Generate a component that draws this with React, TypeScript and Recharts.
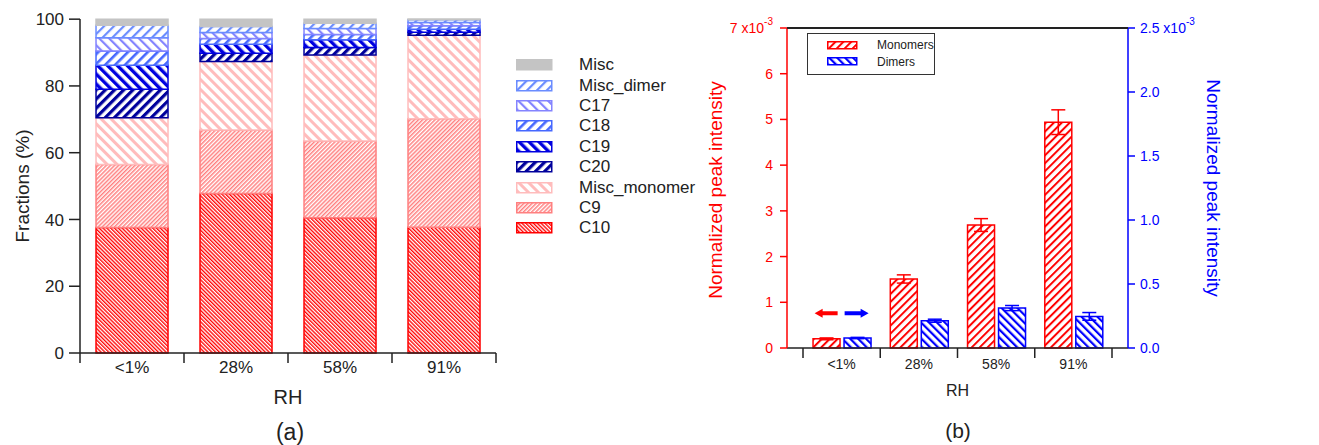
import React from 'react';
import { BarChart, Bar, XAxis, YAxis, Legend, ErrorBar, ReferenceDot, Label } from 'recharts';

// ---------- data ----------
const categories = ['<1%', '28%', '58%', '91%'];
const c10 = [37.6, 47.8, 40.5, 37.7];
const c9 = [18.9, 19.0, 23.0, 32.5];
const miscMonomer = [14.0, 20.5, 25.8, 25.0];
const c20 = [8.5, 2.5, 2.2, 0.9];
const c19 = [7.2, 2.7, 2.3, 0.9];
const c18 = [4.3, 1.7, 1.6, 1.0];
const c17 = [3.9, 1.8, 1.8, 1.0];
const miscDimer = [3.8, 1.8, 1.6, 0.8];
const misc = [1.8, 2.2, 1.2, 0.25];
const fractionTicks = [0, 20, 40, 60, 80, 100];

const monomers = [0.2, 1.51, 2.69, 4.94];
const monomerErr = [0.02, 0.09, 0.14, 0.27];
const dimers = [0.078, 0.213, 0.312, 0.247];
const dimerErr = [0.005, 0.012, 0.02, 0.03];
const monomerTicks = [0, 1, 2, 3, 4, 5, 6, 7];
const dimerTicks = [0, 0.5, 1.0, 1.5, 2.0, 2.5];
const arrowLevel = 0.76;

const fractionData = categories.map((rh, i) => ({
  rh,
  C10: c10[i],
  C9: c9[i],
  Misc_monomer: miscMonomer[i],
  C20: c20[i],
  C19: c19[i],
  C18: c18[i],
  C17: c17[i],
  Misc_dimer: miscDimer[i],
  Misc: misc[i],
}));

const intensityData = categories.map((rh, i) => ({
  rh,
  Monomers: monomers[i],
  monErr: monomerErr[i],
  Dimers: dimers[i],
  dimErr: dimerErr[i],
}));

// ---------- styles ----------
type Pat = { id: string; color: string; p: number; t: number; dir: string };
const patterns: Pat[] = [
  { id: 'pC10', color: '#ff0000', p: 2.7, t: 1.35, dir: '\\' },
  { id: 'pC9', color: '#ff8080', p: 2.9, t: 1.5, dir: '/' },
  { id: 'pMiscMon', color: '#ffbcbc', p: 7, t: 3, dir: '\\' },
  { id: 'pC20', color: '#00009c', p: 6.5, t: 3.2, dir: '/' },
  { id: 'pC19', color: '#0000e0', p: 7, t: 3.4, dir: '\\' },
  { id: 'pC18', color: '#4668ff', p: 7, t: 2.6, dir: '/' },
  { id: 'pC17', color: '#8484ff', p: 7, t: 2.2, dir: '\\' },
  { id: 'pMiscDim', color: '#6a8cff', p: 7, t: 2.2, dir: '/' },
  { id: 'pMono', color: '#ff0000', p: 5.6, t: 2, dir: '/' },
  { id: 'pDim', color: '#0000ff', p: 5.6, t: 2.2, dir: '\\' },
];

const stackSeries = [
  { key: 'C10', color: '#ff0000', fill: 'url(#pC10)' },
  { key: 'C9', color: '#ff8080', fill: 'url(#pC9)' },
  { key: 'Misc_monomer', color: '#ffbcbc', fill: 'url(#pMiscMon)' },
  { key: 'C20', color: '#00009c', fill: 'url(#pC20)' },
  { key: 'C19', color: '#0000e0', fill: 'url(#pC19)' },
  { key: 'C18', color: '#4668ff', fill: 'url(#pC18)' },
  { key: 'C17', color: '#8484ff', fill: 'url(#pC17)' },
  { key: 'Misc_dimer', color: '#6a8cff', fill: 'url(#pMiscDim)' },
  { key: 'Misc', color: '#c4c4c4', fill: '#c4c4c4' },
];

const FONT = '"Liberation Sans", Arial, sans-serif';
const INK = '#222';

// right-panel frame geometry (plot box edges)
const R_LEFT = 87;
const R_TOP = 28;
const R_RIGHT_MARGIN = 111;
const R_AXIS_W = 80;
const R_WIDTH = 619;

function PatternDefs() {
  return (
    <svg width={0} height={0} style={{ position: 'absolute' }}>
      <defs>
        {patterns.map((p) => (
          <pattern
            key={p.id}
            id={p.id}
            patternUnits="userSpaceOnUse"
            width={p.p}
            height={p.p}
            patternTransform={`rotate(${p.dir === '/' ? 45 : -45})`}
          >
            <rect width={p.p} height={p.p} fill="#fff" />
            <rect width={p.t} height={p.p} fill={p.color} />
          </pattern>
        ))}
      </defs>
    </svg>
  );
}

function FractionLegend() {
  const rows = [...stackSeries].reverse();
  return (
    <div style={{ fontFamily: FONT }}>
      {rows.map((r) => (
        <div key={r.key} style={{ height: 20.4, display: 'flex', alignItems: 'center' }}>
          <svg width={37} height={12} style={{ display: 'block' }}>
            <rect x={0.75} y={0.75} width={35} height={10} fill={r.fill} stroke={r.color} strokeWidth={1.5} />
          </svg>
          <span style={{ marginLeft: 26, fontSize: 17, color: INK, lineHeight: '20px' }}>{r.key}</span>
        </div>
      ))}
    </div>
  );
}

function IntensityLegend() {
  const rows = [
    { key: 'Monomers', color: '#ff0000', fill: 'url(#pMono)' },
    { key: 'Dimers', color: '#0000ff', fill: 'url(#pDim)' },
  ];
  return (
    <div
      style={{
        fontFamily: FONT,
        width: 126,
        height: 37,
        border: '1.5px solid #333',
        boxSizing: 'content-box',
        paddingTop: 3,
        background: '#fff',
      }}
    >
      {rows.map((r) => (
        <div key={r.key} style={{ height: 16.5, display: 'flex', alignItems: 'center' }}>
          <svg width={31} height={9} style={{ display: 'block', marginLeft: 19 }}>
            <rect x={0.75} y={0.75} width={29} height={7} fill={r.fill} stroke={r.color} strokeWidth={1.5} />
          </svg>
          <span style={{ marginLeft: 19, fontSize: 12, color: INK }}>{r.key}</span>
        </div>
      ))}
    </div>
  );
}

// Category tick: label at band centre plus tick marks at band boundaries
const makeCategoryTick = (fontSize: number, labelDy: number, tickLen: number) => (props: any) => {
  const { x, y, payload, index, visibleTicksCount } = props;
  const half = payload && payload.offset ? payload.offset : 0;
  const last = index === (visibleTicksCount ?? categories.length) - 1;
  return (
    <g>
      <line x1={x - half} x2={x - half} y1={y} y2={y + tickLen} stroke={INK} strokeWidth={1.5} />
      {last ? <line x1={x + half} x2={x + half} y1={y} y2={y + tickLen} stroke={INK} strokeWidth={1.5} /> : null}
      <text x={x} y={y + labelDy} textAnchor="middle" dominantBaseline="central" fontSize={fontSize} fill={INK}>
        {payload.value}
      </text>
    </g>
  );
};

const FractionCatTick = makeCategoryTick(17, 14, 10);
const IntensityCatTick = makeCategoryTick(14, 16, 10);

const LeftIntensityTick = (props: any) => {
  const { x, y, payload } = props;
  const v = payload.value;
  return (
    <text x={x} y={y} textAnchor="end" dominantBaseline="central" fill="#ff0000" fontSize={14}>
      {v === 7 ? (
        <>
          7 x10<tspan dy={-7} fontSize={10}>-3</tspan>
        </>
      ) : (
        String(v)
      )}
    </text>
  );
};

const RightIntensityTick = (props: any) => {
  const { x, y, payload } = props;
  const v = payload.value;
  return (
    <text x={x} y={y} textAnchor="start" dominantBaseline="central" fill="#0000ff" fontSize={14}>
      {v === 2.5 ? (
        <>
          2.5 x10<tspan dy={-7} fontSize={10}>-3</tspan>
        </>
      ) : (
        Number(v).toFixed(1)
      )}
    </text>
  );
};

const Arrows = (props: any) => {
  const { cx, cy } = props;
  if (cx == null || cy == null) return <g />;
  return (
    <g>
      <path
        d={`M ${cx - 27} ${cy} L ${cx - 19} ${cy - 4.5} L ${cx - 19} ${cy - 2} L ${cx - 4} ${cy - 2} L ${cx - 4} ${cy + 2} L ${cx - 19} ${cy + 2} L ${cx - 19} ${cy + 4.5} Z`}
        fill="#ff0000"
      />
      <path
        d={`M ${cx + 27} ${cy} L ${cx + 19} ${cy - 4.5} L ${cx + 19} ${cy - 2} L ${cx + 3} ${cy - 2} L ${cx + 3} ${cy + 2} L ${cx + 19} ${cy + 2} L ${cx + 19} ${cy + 4.5} Z`}
        fill="#0000ff"
      />
    </g>
  );
};

function FractionChart() {
  return (
    <BarChart
      width={700}
      height={445}
      data={fractionData}
      margin={{ top: 19, right: 204, bottom: 32, left: 0 }}
      barCategoryGap="15.4%"
    >
      <XAxis
        dataKey="rh"
        height={60}
        axisLine={{ stroke: INK, strokeWidth: 1.5 }}
        tickLine={false}
        tickSize={0}
        tickMargin={0}
        interval={0}
        tick={<FractionCatTick />}
      >
        <Label
          content={(p: any) => {
            const vb = p.viewBox || {};
            return (
              <text x={vb.x + vb.width / 2} y={vb.y + 44} textAnchor="middle" dominantBaseline="central" fontSize={20} fill={INK}>
                RH
              </text>
            );
          }}
        />
      </XAxis>
      <YAxis
        width={80}
        domain={[0, 100]}
        ticks={fractionTicks}
        tickSize={11}
        tickMargin={5}
        axisLine={{ stroke: INK, strokeWidth: 1.5 }}
        tickLine={{ stroke: INK, strokeWidth: 1.5 }}
        tick={{ fontSize: 17, fill: INK }}
      >
        <Label
          content={(p: any) => {
            const vb = p.viewBox || {};
            const x = vb.x + 22;
            const y = vb.y + vb.height / 2;
            return (
              <text x={x} y={y} transform={`rotate(-90, ${x}, ${y})`} textAnchor="middle" dominantBaseline="central" fontSize={19} fill={INK}>
                Fractions (%)
              </text>
            );
          }}
        />
      </YAxis>
      <Legend
        layout="vertical"
        align="center"
        verticalAlign="middle"
        wrapperStyle={{ left: 516, top: 55, width: 190, height: 190 }}
        content={() => <FractionLegend />}
      />
      {stackSeries.map((s) => (
        <Bar
          key={s.key}
          dataKey={s.key}
          stackId="a"
          fill={s.fill}
          stroke={s.color}
          strokeWidth={1.5}
          isAnimationActive={false}
        />
      ))}
    </BarChart>
  );
}

function IntensityChart() {
  return (
    <BarChart
      width={R_WIDTH}
      height={445}
      data={intensityData}
      margin={{ top: R_TOP, right: R_RIGHT_MARGIN, bottom: 37, left: 0 }}
      barCategoryGap="13%"
      barGap={4}
    >
      <XAxis
        dataKey="rh"
        height={60}
        padding={{ left: 16, right: 16 }}
        axisLine={{ stroke: INK, strokeWidth: 1.5 }}
        tickLine={false}
        tickSize={0}
        tickMargin={0}
        interval={0}
        tick={<IntensityCatTick />}
      >
        <Label
          content={(p: any) => {
            const vb = p.viewBox || {};
            return (
              <text x={vb.x + vb.width / 2} y={vb.y + 42} textAnchor="middle" dominantBaseline="central" fontSize={16} fill={INK}>
                RH
              </text>
            );
          }}
        />
      </XAxis>
      <YAxis
        yAxisId="L"
        width={R_LEFT}
        domain={[0, 7]}
        ticks={monomerTicks}
        tickSize={7}
        tickMargin={7}
        axisLine={{ stroke: '#ff0000', strokeWidth: 1.5 }}
        tickLine={{ stroke: '#ff0000', strokeWidth: 1.5 }}
        tick={<LeftIntensityTick />}
      >
        <Label
          content={(p: any) => {
            const vb = p.viewBox || {};
            const x = vb.x + 15;
            const y = vb.y + vb.height / 2 + 2;
            return (
              <text x={x} y={y} transform={`rotate(-90, ${x}, ${y})`} textAnchor="middle" dominantBaseline="central" fontSize={19} fill="#ff0000">
                Normalized peak intensity
              </text>
            );
          }}
        />
      </YAxis>
      <YAxis
        yAxisId="R"
        orientation="right"
        width={R_AXIS_W}
        domain={[0, 2.5]}
        ticks={dimerTicks}
        tickSize={7}
        tickMargin={5}
        axisLine={{ stroke: '#0000ff', strokeWidth: 1.5 }}
        tickLine={{ stroke: '#0000ff', strokeWidth: 1.5 }}
        tick={<RightIntensityTick />}
      >
        <Label
          content={(p: any) => {
            const vb = p.viewBox || {};
            const x = vb.x + 85;
            const y = vb.y + vb.height / 2;
            return (
              <text x={x} y={y} transform={`rotate(90, ${x}, ${y})`} textAnchor="middle" dominantBaseline="central" fontSize={19} fill="#0000ff">
                Normalized peak intensity
              </text>
            );
          }}
        />
      </YAxis>
      <Legend
        layout="vertical"
        align="center"
        verticalAlign="middle"
        wrapperStyle={{ left: 107, top: 33, width: 130, height: 42 }}
        content={() => <IntensityLegend />}
      />
      <Bar
        yAxisId="L"
        dataKey="Monomers"
        fill="url(#pMono)"
        stroke="#ff0000"
        strokeWidth={1.5}
        isAnimationActive={false}
      >
        <ErrorBar dataKey="monErr" width={7} stroke="#ff0000" strokeWidth={1.5} direction="y" />
      </Bar>
      <Bar
        yAxisId="R"
        dataKey="Dimers"
        fill="url(#pDim)"
        stroke="#0000ff"
        strokeWidth={1.5}
        isAnimationActive={false}
      >
        <ErrorBar dataKey="dimErr" width={7} stroke="#0000ff" strokeWidth={1.5} direction="y" />
      </Bar>
      <ReferenceDot
        yAxisId="L"
        x={categories[0]}
        y={arrowLevel}
        ifOverflow="visible"
        shape={(p: any) => <Arrows {...p} />}
      />
    </BarChart>
  );
}

export default function App() {
  return (
    <div
      style={{
        position: 'absolute',
        left: 0,
        top: 0,
        width: 1319,
        height: 445,
        background: '#fff',
        fontFamily: FONT,
        overflow: 'hidden',
      }}
    >
      <PatternDefs />
      <div style={{ position: 'absolute', left: 0, top: 0 }}>
        <FractionChart />
      </div>
      <div style={{ position: 'absolute', left: 700, top: 0, width: R_WIDTH, height: 445 }}>
        <IntensityChart />
      </div>
      {/* top frame line of panel (b) */}
      <div
        style={{
          position: 'absolute',
          left: 700 + R_LEFT,
          top: R_TOP - 1,
          width: R_WIDTH - R_LEFT - R_RIGHT_MARGIN - R_AXIS_W,
          height: 0,
          borderTop: `2px solid ${INK}`,
          zIndex: 5,
          pointerEvents: 'none',
        }}
      />
      <div style={{ position: 'absolute', left: 240, top: 420, width: 100, textAlign: 'center', fontSize: 23, lineHeight: '24px', color: INK }}>
        (a)
      </div>
      <div style={{ position: 'absolute', left: 908, top: 419, width: 100, textAlign: 'center', fontSize: 21, lineHeight: '24px', color: INK }}>
        (b)
      </div>
    </div>
  );
}
